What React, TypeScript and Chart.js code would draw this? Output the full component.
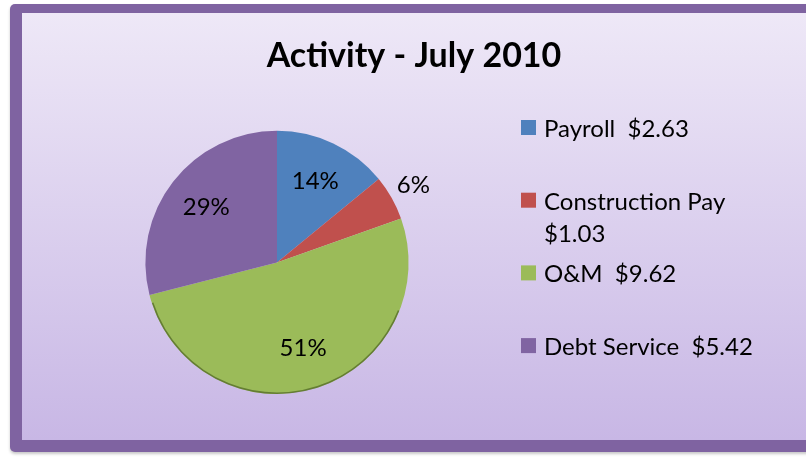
import { useEffect, useRef } from 'react';
import { Chart, registerables, layouts } from 'chart.js';

Chart.register(...registerables);

// ---- data ----
const categories = ['Payroll', 'Construction Pay', 'O&M', 'Debt Service'];
const amounts = [2.63, 1.03, 9.62, 5.42];
const sliceColors = ['#4F81BD', '#C0504D', '#9BBB59', '#8064A2'];
const chartTitle = 'Activity - July 2010';

const FONT = 'Lato, "Open Sans", "DejaVu Sans", sans-serif';

// background frame with gradient
const framePlugin = {
  id: 'frame',
  beforeDraw(chart: any) {
    const { ctx, width } = chart;
    ctx.save();
    ctx.fillStyle = '#ffffff';
    ctx.fillRect(0, 0, width, chart.height);
    ctx.shadowColor = 'rgba(0,0,0,0.22)';
    ctx.shadowBlur = 3;
    ctx.shadowOffsetY = 2;
    ctx.fillStyle = '#7F63A1';
    ctx.beginPath();
    ctx.roundRect(10, 4, width + 20, 448, 5);
    ctx.fill();
    ctx.shadowColor = 'transparent';
    const g = ctx.createLinearGradient(0, 13, 0, 440);
    g.addColorStop(0, '#EEE8F7');
    g.addColorStop(1, '#C8B7E5');
    ctx.fillStyle = g;
    ctx.fillRect(22, 13, width - 22, 427);
    ctx.restore();
  },
};

function wrapText(ctx: CanvasRenderingContext2D, text: string, maxWidth: number): string[] {
  const words = text.split(' ');
  const lines: string[] = [];
  let cur = '';
  for (const w of words) {
    const test = cur === '' ? w : cur + ' ' + w;
    if (cur !== '' && ctx.measureText(test.trim()).width > maxWidth) {
      lines.push(cur.trim());
      cur = w;
    } else {
      cur = test;
    }
  }
  if (cur !== '') lines.push(cur.trim());
  return lines;
}

// legend drawn as a layout box on the right side of the chart
const sideLegendPlugin = {
  id: 'sideLegend',
  beforeInit(chart: any) {
    const box: any = {
      position: 'right',
      weight: 1000,
      fullSize: false,
      options: {},
      left: 0, top: 0, right: 0, bottom: 0, width: 0, height: 0,
      isHorizontal() { return false; },
      update(_maxWidth: number, maxHeight: number) {
        this.width = 274;
        this.height = maxHeight;
      },
      draw() {
        const ctx: CanvasRenderingContext2D = chart.ctx;
        const labels = chart.data.labels as string[];
        const ds = chart.data.datasets[0];
        const data = ds.data as number[];
        const colors = ds.backgroundColor as string[];
        ctx.save();
        ctx.font = `24px ${FONT}`;
        ctx.textBaseline = 'alphabetic';
        ctx.textAlign = 'left';
        const boxX = this.left - 11;
        const textX = boxX + 23;
        const firstBaseline = 137;
        const step = 72.7;
        const lineH = 32;
        labels.forEach((lab, i) => {
          const base = firstBaseline + i * step;
          ctx.fillStyle = colors[i];
          ctx.fillRect(boxX, base - 17, 15, 15);
          ctx.fillStyle = '#000';
          const lines = wrapText(ctx, `${lab}  $${data[i].toFixed(2)}`, 228);
          lines.forEach((ln, j) => ctx.fillText(ln, textX, base + j * lineH));
        });
        ctx.restore();
      },
    };
    layouts.addBox(chart, box);
  },
};

// subtle rim along the lower edge of the pie + percentage labels
const pieLabelPlugin = {
  id: 'pieLabels',
  afterDatasetsDraw(chart: any) {
    const ctx: CanvasRenderingContext2D = chart.ctx;
    const meta = chart.getDatasetMeta(0);
    const values = chart.data.datasets[0].data as number[];
    const total = values.reduce((a, b) => a + b, 0);
    ctx.save();
    const first = meta.data[0];
    if (first) {
      const c = first.getProps(['x', 'y', 'outerRadius'], true);
      ctx.beginPath();
      ctx.arc(c.x, c.y, c.outerRadius - 0.8, 0.12 * Math.PI, 0.9 * Math.PI);
      ctx.strokeStyle = 'rgba(55,75,20,0.55)';
      ctx.lineWidth = 1.6;
      ctx.stroke();
    }
    ctx.font = `24px ${FONT}`;
    ctx.textAlign = 'center';
    ctx.textBaseline = 'middle';
    ctx.fillStyle = '#000';
    meta.data.forEach((arc: any, i: number) => {
      const p = arc.getProps(['x', 'y', 'startAngle', 'endAngle', 'outerRadius'], true);
      const mid = (p.startAngle + p.endAngle) / 2;
      const share = values[i] / total;
      const r = share < 0.1 ? p.outerRadius * 1.19 : p.outerRadius * 0.68;
      ctx.fillText(`${Math.round(share * 100)}%`, p.x + Math.cos(mid) * r, p.y + Math.sin(mid) * r);
    });
    ctx.restore();
  },
};

export default function App() {
  const ref = useRef<HTMLCanvasElement | null>(null);
  useEffect(() => {
    document.body.style.margin = '0';
    const canvas = ref.current!;
    const chart = new Chart(canvas, {
      type: 'pie',
      data: {
        labels: categories,
        datasets: [
          {
            data: amounts,
            backgroundColor: sliceColors,
            borderWidth: 0,
            hoverBorderWidth: 0,
            offset: 0,
            hoverOffset: 0,
          },
        ],
      },
      options: {
        responsive: false,
        animation: false,
        devicePixelRatio: 1,
        layout: { padding: { left: 22, right: 0, top: 13, bottom: 63 } },
        plugins: {
          legend: { display: false },
          tooltip: { enabled: false },
          title: {
            display: true,
            text: chartTitle,
            color: '#000',
            font: { family: FONT, size: 34, weight: 'bold', lineHeight: 1.2 },
            padding: { top: 23, bottom: 54 },
          },
        },
      } as any,
      plugins: [framePlugin, sideLegendPlugin, pieLabelPlugin],
    });
    if ((document as any).fonts && (document as any).fonts.load) {
      Promise.all([
        (document as any).fonts.load(`bold 34px Lato`),
        (document as any).fonts.load(`24px Lato`),
      ]).then(() => chart.update()).catch(() => {});
    }
    return () => chart.destroy();
  }, []);
  return <canvas ref={ref} width={806} height={457} style={{ display: 'block' }} />;
}
